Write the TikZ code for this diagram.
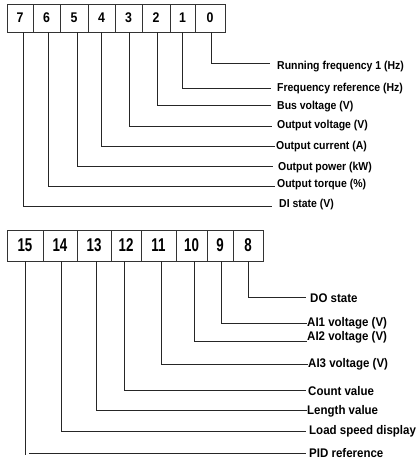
\documentclass[tikz,border=0pt]{standalone}
\usepackage{fontspec}
\setmainfont{Liberation Sans}
\usepackage{graphicx}
\begin{document}
\begin{tikzpicture}[x=1pt,y=-1pt,
  topbox/.style={draw=black!80,line width=0.8pt,minimum height=28pt,inner sep=0pt,
     font=\fontsize{14}{15}\selectfont\bfseries},
  botbox/.style={draw=black!80,line width=0.8pt,minimum height=31pt,inner sep=0pt,
     font=\fontsize{18.5}{19}\selectfont\bfseries},
  conn/.style={draw=black!85,line width=0.8pt},
  toplab/.style={anchor=west,inner sep=0pt,font=\fontsize{11.5}{12}\selectfont\bfseries},
  botlab/.style={anchor=west,inner sep=0pt,font=\fontsize{12.5}{13}\selectfont\bfseries}]
\useasboundingbox (0,0) rectangle (418,462);
\newcommand{\tdig}[1]{\scalebox{0.88}[1]{#1}}
\newcommand{\bdig}[1]{\scalebox{0.72}[1]{#1}}
\newcommand{\tl}[1]{\scalebox{0.91}[1]{#1}}
\newcommand{\bl}[1]{\scalebox{0.92}[1]{#1}}
% top register
\node[topbox,minimum width=26pt] (t7) at (20,18) {\tdig{7}};
\node[topbox,minimum width=27pt] (t6) at (46.5,18) {\tdig{6}};
\node[topbox,minimum width=28pt] (t5) at (74,18) {\tdig{5}};
\node[topbox,minimum width=27pt] (t4) at (101.5,18) {\tdig{4}};
\node[topbox,minimum width=27pt] (t3) at (128.5,18) {\tdig{3}};
\node[topbox,minimum width=28pt] (t2) at (156,18) {\tdig{2}};
\node[topbox,minimum width=25pt] (t1) at (182.5,18) {\tdig{1}};
\node[topbox,minimum width=30pt] (t0) at (210,18) {\tdig{0}};
% top labels
\node[toplab] (l0) at (277,66.7) {\tl{Running frequency 1 (Hz)}};
\node[toplab] (l1) at (277,89) {\tl{Frequency reference (Hz)}};
\node[toplab] (l2) at (277,106.7) {\tl{Bus voltage (V)}};
\node[toplab] (l3) at (277,125.3) {\tl{Output voltage (V)}};
\node[toplab] (l4) at (276,146.7) {\tl{Output current (A)}};
\node[toplab] (l5) at (278,167.7) {\tl{Output power (kW)}};
\node[toplab] (l6) at (277,185) {\tl{Output torque (\%)}};
\node[toplab] (l7) at (279,205) {\tl{DI state (V)}};
\coordinate (e0) at (270,63.3);
\coordinate (e1) at (270.7,88.3);
\coordinate (e2) at (270.7,105);
\coordinate (e3) at (271.7,126);
\coordinate (e4) at (275,146.7);
\coordinate (e5) at (272.7,166.7);
\coordinate (e6) at (275,186);
\coordinate (e7) at (271.7,206.5);
\draw[conn] ([xshift=1pt]t0.south) |- (e0);
\draw[conn] ([xshift=-0.5pt]t1.south) |- (e1);
\draw[conn] ([xshift=1pt]t2.south) |- (e2);
\draw[conn] ([xshift=0.5pt]t3.south) |- (e3);
\draw[conn] ([xshift=-0.5pt]t4.south) |- (e4);
\draw[conn] ([xshift=3pt]t5.south) |- (e5);
\draw[conn] ([xshift=1.5pt]t6.south) |- (e6);
\draw[conn] ([xshift=3pt]t7.south) |- (e7);
% bottom register
\node[botbox,minimum width=36pt] (b15) at (25,245.5) {\bdig{15}};
\node[botbox,minimum width=34pt] (b14) at (60,245.5) {\bdig{14}};
\node[botbox,minimum width=34pt] (b13) at (94,245.5) {\bdig{13}};
\node[botbox,minimum width=30pt] (b12) at (126,245.5) {\bdig{12}};
\node[botbox,minimum width=35pt] (b11) at (158.5,245.5) {\bdig{11}};
\node[botbox,minimum width=31pt] (b10) at (191.5,245.5) {\bdig{10}};
\node[botbox,minimum width=26pt] (b9) at (220,245.5) {\bdig{9}};
\node[botbox,minimum width=30pt] (b8) at (248,245.5) {\bdig{8}};
% bottom labels
\node[botlab] (m8) at (310,298) {\bl{DO state}};
\node[botlab] (m9) at (307,323) {\bl{AI1 voltage (V)}};
\node[botlab] (m10) at (307,337) {\bl{AI2 voltage (V)}};
\node[botlab] (m11) at (308,364) {\bl{AI3 voltage (V)}};
\node[botlab] (m12) at (308,391) {\bl{Count value}};
\node[botlab] (m13) at (307,411) {\bl{Length value}};
\node[botlab] (m14) at (309,431) {\bl{Load speed display}};
\node[botlab] (m15) at (309,453) {\bl{PID reference}};
\coordinate (f8) at (306,297);
\coordinate (f9) at (307,323);
\coordinate (f10) at (307,341.7);
\coordinate (f11) at (308,364);
\coordinate (f12) at (306,390.7);
\coordinate (f13) at (307,410.7);
\coordinate (f14) at (306,431.3);
\coordinate (f15) at (306,453.5);
\coordinate (c15) at (25,455);
\coordinate (s15) at (29,453.5);
\draw[conn] (b8.south) |- (f8);
\draw[conn] ([xshift=1pt]b9.south) |- (f9);
\draw[conn] ([xshift=2.5pt]b10.south) |- (f10);
\draw[conn] ([xshift=2.5pt]b11.south) |- (f11);
\draw[conn] ([xshift=-2pt]b12.south) |- (f12);
\draw[conn] ([xshift=2pt]b13.south) |- (f13);
\draw[conn] ([xshift=1pt]b14.south) |- (f14);
\draw[conn] (b15.south) -- (c15);
\draw[conn] (s15) -- (f15);
\end{tikzpicture}
\end{document}
